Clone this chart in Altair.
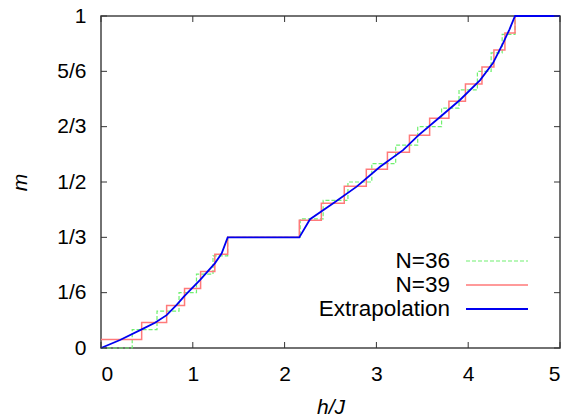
import altair as alt
import pandas as pd

FONT = "Liberation Sans"

# ---- data ----
series_names = ["N=36", "N=39", "Extrapolation"]
series_colors = ["#70f070", "#ff7a7a", "#0000f0"]
series_dashes = [[4, 2], [1, 0], [1, 0]]
series_widths = [1.2, 1.5, 1.8]

# N=36 staircase: field where each level starts, magnetization of that level
h36 = [0.0, 0.34, 0.61, 0.85, 1.04, 1.22, 1.38, 2.17, 2.42, 2.69, 2.95, 3.21,
       3.45, 3.71, 3.90, 4.10, 4.25, 4.37, 4.51, 5.0]
m36 = [0/18, 1/18, 2/18, 3/18, 4/18, 5/18, 6/18, 7/18, 8/18, 9/18, 10/18,
       11/18, 12/18, 13/18, 14/18, 15/18, 16/18, 17/18, 18/18, 18/18]

# N=39 staircase
h39 = [0.0, 0.443, 0.715, 0.91, 1.085, 1.24, 1.38, 2.16, 2.40, 2.65, 2.89,
       3.12, 3.36, 3.58, 3.79, 3.97, 4.15, 4.28, 4.40, 4.51, 5.0]
m39 = [1/39, 3/39, 5/39, 7/39, 9/39, 11/39, 13/39, 15/39, 17/39, 19/39,
       21/39, 23/39, 25/39, 27/39, 29/39, 31/39, 33/39, 35/39, 37/39, 39/39,
       39/39]

# Extrapolated curve
hex_ = [0.0, 0.207, 0.443, 0.588, 0.715, 0.824, 0.91, 1.08, 1.24, 1.315, 1.38,
        2.16, 2.277, 2.53, 2.785, 3.04, 3.29, 3.46, 3.69, 3.91, 4.13, 4.27,
        4.38, 4.45, 4.51, 5.0]
mex = [0.0, 0.024, 0.056, 0.076, 0.099, 0.13, 0.157, 0.205, 0.255, 0.285,
       0.3333, 0.3333, 0.388, 0.436, 0.486, 0.546, 0.596, 0.641, 0.695,
       0.747, 0.807, 0.858, 0.918, 0.96, 1.0, 1.0]

x_ticks = [0, 1, 2, 3, 4, 5]
y_ticks = [0, 1/6, 1/3, 1/2, 2/3, 5/6, 1]
y_tick_labels = ["0", "1/6", "1/3", "1/2", "2/3", "5/6", "1"]

W, H = 459, 332
TICK = 6

df36 = pd.DataFrame({"h": h36, "m": m36})
df39 = pd.DataFrame({"h": h39, "m": m39})
dfex = pd.DataFrame({"h": hex_, "m": mex})
xt = pd.DataFrame({"h": x_ticks})
yt = pd.DataFrame({"m": y_ticks})

label_expr = "[" + ",".join("'%s'" % s for s in y_tick_labels) + "][round(datum.value*6)]"

xscale = alt.Scale(domain=[0, 5], nice=False, zero=False)
yscale = alt.Scale(domain=[0, 1], nice=False)
xaxis = alt.Axis(values=x_ticks, format="d", title="h/J", titleFontStyle="italic",
                 labelPadding=15, titlePadding=12)
yaxis = alt.Axis(values=y_ticks, labelExpr=label_expr, title="m",
                 titleFontStyle="italic", labelPadding=15, titlePadding=26)


def xenc():
    return alt.X("h:Q", scale=xscale, axis=xaxis)


def yenc():
    return alt.Y("m:Q", scale=yscale, axis=yaxis)


line36 = alt.Chart(df36).mark_line(
    interpolate="step-after", color=series_colors[0],
    strokeDash=series_dashes[0], strokeWidth=series_widths[0]
).encode(x=xenc(), y=yenc(), order=alt.Order("h:Q"))

line39 = alt.Chart(df39).mark_line(
    interpolate="step-after", color=series_colors[1],
    strokeDash=series_dashes[1], strokeWidth=series_widths[1]
).encode(x=xenc(), y=yenc(), order=alt.Order("h:Q"))

lineex = alt.Chart(dfex).mark_line(
    color=series_colors[2], strokeWidth=series_widths[2]
).encode(x=xenc(), y=yenc(), order=alt.Order("h:Q"))

tick_color = "#333"
xt_bottom = alt.Chart(xt).mark_rule(color=tick_color, strokeWidth=1).encode(
    x=xenc(), y=alt.value(H), y2=alt.value(H - TICK))
xt_top = alt.Chart(xt).mark_rule(color=tick_color, strokeWidth=1).encode(
    x=xenc(), y=alt.value(0), y2=alt.value(TICK))
yt_left = alt.Chart(yt).mark_rule(color=tick_color, strokeWidth=1).encode(
    y=yenc(), x=alt.value(0), x2=alt.value(TICK))
yt_right = alt.Chart(yt).mark_rule(color=tick_color, strokeWidth=1).encode(
    y=yenc(), x=alt.value(W), x2=alt.value(W - TICK))

# gnuplot-style key: label right-aligned, line sample to its right
LEG_TEXT_X, LEG_LINE_X0, LEG_LINE_X1 = 349, 365, 427
LEG_Y0, LEG_DY = 245, 24
legend_layers = []
for i, name in enumerate(series_names):
    yrow = LEG_Y0 + i * LEG_DY
    legend_layers.append(
        alt.Chart(pd.DataFrame({"label": [name]})).mark_text(
            align="right", baseline="middle", font=FONT, fontSize=22.5, color="black"
        ).encode(text="label:N", x=alt.value(LEG_TEXT_X), y=alt.value(yrow))
    )
    legend_layers.append(
        alt.Chart(pd.DataFrame({"label": [name]})).mark_rule(
            color=series_colors[i], strokeDash=series_dashes[i],
            strokeWidth=series_widths[i]
        ).encode(x=alt.value(LEG_LINE_X0), x2=alt.value(LEG_LINE_X1), y=alt.value(yrow))
    )

chart = alt.layer(
    line36, line39, lineex, xt_bottom, xt_top, yt_left, yt_right, *legend_layers
).properties(
    width=W, height=H,
    background="white",
    autosize=alt.AutoSizeParams(type="none"),
    padding={"left": 93, "top": 8, "right": 10, "bottom": 72},
).configure_view(
    stroke="#444", strokeWidth=1.5
).configure_axis(
    domain=False, ticks=False, grid=False,
    labelFont=FONT, labelFontSize=21, labelColor="black",
    titleFont=FONT, titleFontSize=21, titleColor="black", titleFontWeight="normal",
)

chart.save("out.html", embed_options={"renderer": "svg", "actions": False})
